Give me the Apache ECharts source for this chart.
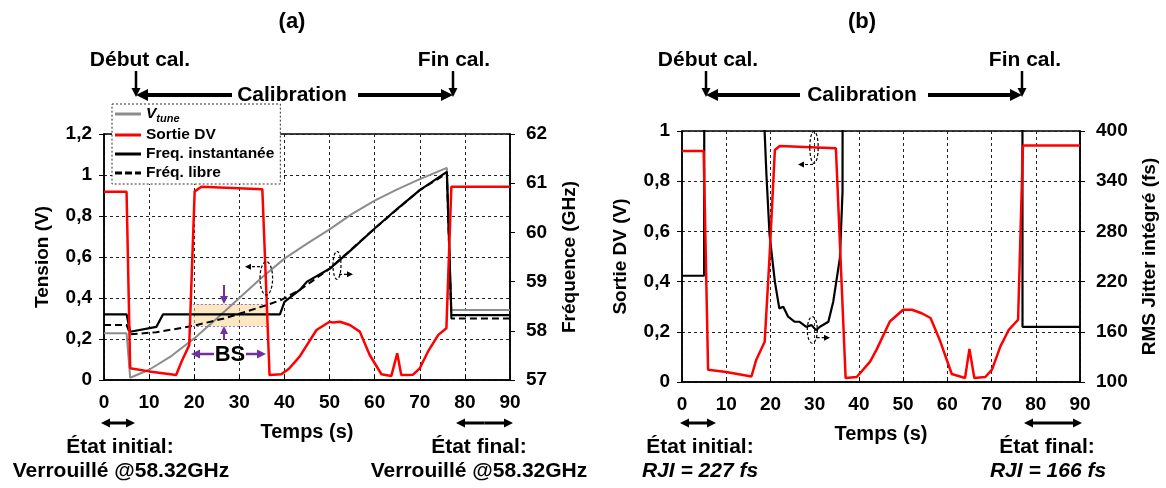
<!DOCTYPE html>
<html>
<head>
<meta charset="utf-8">
<script src="https://cdn.jsdelivr.net/npm/echarts@6/dist/echarts.min.js"></script>
<style>
  html, body { margin: 0; padding: 0; background: #fff; }
  #main { width: 1166px; height: 488px; }
</style>
</head>
<body>
<div id="main"></div>
<script>
// ---- data ----
// panel (a)
const tVtune = [0, 5, 5.8, 10, 15, 20, 25, 30, 35, 40, 45, 50, 55, 60, 65, 70, 76, 77, 90];
const vtune  = [0.228, 0.228, 0.011, 0.05, 0.118, 0.203, 0.30, 0.40, 0.50, 0.592, 0.665, 0.735, 0.81, 0.875, 0.93, 0.98, 1.035, 0.341, 0.341];

const tDvA = [0, 5, 5.8, 10, 16, 17.2, 18.9, 20.1, 21.6, 35.1, 36.7, 39.3, 41, 43.4, 47.1, 50, 50.8, 52.3, 54.5, 56.7, 58.9, 61.5, 63.7, 65, 65.9, 68.5, 70, 71.8, 74.1, 75.9, 77, 90];
const dvA  = [0.918, 0.918, 0.057, 0.042, 0.024, 0.09, 0.17, 0.92, 0.943, 0.93, 0.024, 0.028, 0.055, 0.115, 0.244, 0.284, 0.28, 0.284, 0.268, 0.236, 0.122, 0.028, 0.02, 0.13, 0.024, 0.026, 0.057, 0.138, 0.22, 0.252, 0.943, 0.943];

const tFreq = [0, 5, 5.8, 11.6, 13.1, 39, 40, 43.4, 45, 50, 55, 60, 65, 70, 76, 77, 90];
const freq  = [58.335, 58.335, 57.98, 58.08, 58.335, 58.335, 58.59, 58.83, 59.0, 59.26, 59.66, 60.08, 60.48, 60.86, 61.23, 58.32, 58.32];

const tLibre = [0, 5, 5.8, 11.6, 19.7, 26.6, 36, 39.3, 43.4, 50, 60, 70, 76, 77, 90];
const libre  = [58.12, 58.12, 57.93, 57.97, 58.1, 58.25, 58.52, 58.63, 58.83, 59.26, 60.08, 60.86, 61.2, 58.25, 58.25];

// bande BS (s, GHz)
const bsTime = [19.7, 36];
const bsFreq = [58.10, 58.54];

// panel (b)
const tDvB = [0, 4.9, 5.9, 10, 15.7, 16.8, 18.7, 19.8, 21, 22.1, 34.8, 37, 39.5, 42.5, 44, 47, 50, 52, 54.2, 56.2, 58.4, 61, 64, 65, 66.1, 68.6, 70.1, 72, 73.9, 76, 77.1, 90];
const dvB  = [0.92, 0.92, 0.049, 0.04, 0.022, 0.089, 0.16, 0.5, 0.924, 0.94, 0.931, 0.016, 0.02, 0.08, 0.129, 0.241, 0.288, 0.288, 0.274, 0.255, 0.162, 0.032, 0.016, 0.132, 0.016, 0.02, 0.049, 0.142, 0.208, 0.248, 0.942, 0.942];

const tJit = [0, 5, 5.3, 18.3, 18.6, 19.1, 19.8, 21, 22, 22.9, 24, 25.5, 26.6, 28.1, 29.3, 30.3, 31.2, 33.1, 34.2, 35.7, 36.3, 36.6, 76.9, 77, 90];
const jit  = [227, 227, 2000, 2000, 410, 347, 276, 220, 188, 190, 178, 172, 172, 166, 168, 162, 166, 172, 196, 248, 327, 2000, 2000, 166, 166];

const xTicks = [0, 90, 10];

const FONT = '"Liberation Sans", Arial, sans-serif';
const pairs = (xs, ys) => xs.map((x, i) => [x, ys[i]]);
const comma = v => String(+v.toFixed(2)).replace('.', ',');

// ---- small drawing helpers for the annotations ----
function arrow(x1, y1, x2, y2, o) {
  o = o || {};
  const w = o.width || 3, h = o.head || 10, c = o.color || '#000';
  const a = Math.atan2(y2 - y1, x2 - x1);
  const bx = x2 - h * Math.cos(a), by = y2 - h * Math.sin(a);
  const px = Math.sin(a) * h * 0.5, py = -Math.cos(a) * h * 0.5;
  return [
    { type: 'line', z: 100, shape: { x1, y1, x2: bx, y2: by },
      style: { stroke: c, lineWidth: w, lineDash: o.dash || null } },
    { type: 'polygon', z: 100, shape: { points: [[x2, y2], [bx + px, by + py], [bx - px, by - py]] },
      style: { fill: c } }
  ];
}
function dblArrow(x1, y, x2, o) {
  const m = (x1 + x2) / 2;
  return arrow(m, y, x1, y, o).concat(arrow(m, y, x2, y, o));
}
function txt(x, y, s, size, style) {
  return { type: 'text', z: 100, x, y,
    style: { text: s, font: (style || 'bold') + ' ' + size + 'px ' + FONT, fill: '#000',
      align: 'center', verticalAlign: 'middle' } };
}
function ell(cx, cy, rx, ry) {
  return { type: 'ellipse', z: 100, shape: { cx, cy, rx, ry },
    style: { fill: 'none', stroke: '#000', lineWidth: 1.2, lineDash: [3, 2] } };
}

const graphics = [].concat(
  // (a) header
  [txt(292, 22, '(a)', 22), txt(140, 60, 'Début cal.', 21), txt(454, 60, 'Fin cal.', 21), txt(292, 95, 'Calibration', 21)],
  arrow(136, 71, 136, 97, { width: 2.5, head: 9 }),
  arrow(453, 71, 453, 97, { width: 2.5, head: 9 }),
  arrow(232, 95, 136, 95, { width: 4, head: 12 }),
  arrow(358, 95, 453, 95, { width: 4, head: 12 }),
  // (a) footer
  dblArrow(101, 423, 135, { width: 3, head: 9 }),
  dblArrow(456, 423, 513, { width: 3, head: 9 }),
  [txt(120, 447, 'État initial:', 21), txt(121, 471, 'Verrouillé @58.32GHz', 21),
   txt(479, 447, 'État final:', 21), txt(479, 471, 'Verrouillé @58.32GHz', 21)],
  // (a) BS markers
  arrow(224, 285, 224, 304, { width: 2, head: 8, color: '#7030a0' }),
  arrow(224, 340, 224, 326, { width: 2, head: 8, color: '#7030a0' }),
  arrow(214, 354, 191, 354, { width: 2.5, head: 9, color: '#7030a0' }),
  arrow(246, 354, 266, 354, { width: 2.5, head: 9, color: '#7030a0' }),
  [txt(230, 355, 'BS', 22)],
  // (a) axis pointers
  [ell(266.3, 278.3, 6.3, 16.7), ell(337, 265.3, 4, 14)],
  arrow(260, 266.7, 245, 266.7, { width: 1.2, head: 6, dash: [3, 2] }),
  arrow(339, 274.3, 353, 274.3, { width: 1.2, head: 6, dash: [3, 2] }),
  // (b) header
  [txt(862, 22, '(b)', 22), txt(708, 60, 'Début cal.', 21), txt(1025, 60, 'Fin cal.', 21), txt(862, 95, 'Calibration', 21)],
  arrow(706, 71, 706, 97, { width: 2.5, head: 9 }),
  arrow(1022, 71, 1022, 97, { width: 2.5, head: 9 }),
  arrow(800, 95, 706, 95, { width: 4, head: 12 }),
  arrow(928, 95, 1022, 95, { width: 4, head: 12 }),
  // (b) footer
  dblArrow(680, 423, 716, { width: 3, head: 9 }),
  dblArrow(1024, 423, 1082, { width: 3, head: 9 }),
  [txt(700, 447, 'État initial:', 21), txt(700, 471, 'RJI = 227 fs', 21, 'italic bold'),
   txt(1047, 447, 'État final:', 21), txt(1048, 471, 'RJI = 166 fs', 21, 'italic bold')],
  // (b) axis pointers
  [ell(814, 147.3, 4.2, 16), ell(812.3, 330, 5, 13.3)],
  arrow(813, 164.5, 798, 164.5, { width: 1.2, head: 6, dash: [3, 2] }),
  arrow(816.7, 337.7, 830, 337.7, { width: 1.2, head: 6, dash: [3, 2] })
);

const labelStyle = { color: '#000', fontFamily: FONT, fontWeight: 'bold', fontSize: 19 };
const nameStyle = { color: '#000', fontFamily: FONT, fontWeight: 'bold', fontSize: 19 };
const dotted = { show: true, lineStyle: { color: '#222', type: [3, 3], width: 1 } };

function xAx(gi) {
  return {
    type: 'value', gridIndex: gi, min: xTicks[0], max: xTicks[1], interval: xTicks[2],
    name: 'Temps (s)', nameLocation: 'middle', nameGap: 42, nameTextStyle: Object.assign({}, nameStyle, { fontSize: 20 }),
    axisLine: { lineStyle: { color: '#000', width: 1.5 } },
    axisTick: { inside: true, length: 5, lineStyle: { color: '#000' } },
    axisLabel: Object.assign({ margin: 13 }, labelStyle),
    splitLine: dotted
  };
}
function yAx(gi, min, max, interval, pos, name, nameGap, split, fmt) {
  return {
    type: 'value', gridIndex: gi, position: pos, min, max, interval,
    name, nameLocation: 'middle', nameRotate: 90, nameGap, nameTextStyle: nameStyle,
    axisLine: { show: true, lineStyle: { color: '#000', width: 1.5 } },
    axisTick: { show: true, length: 5, lineStyle: { color: '#000' } },
    axisLabel: Object.assign({ margin: pos === 'right' ? 16 : 12, formatter: fmt }, labelStyle),
    splitLine: split ? dotted : { show: false }
  };
}

const lineIcon = 'path://M0,0h26v3h-26z';
const dashIcon = 'path://M0,0h7v3h-7zM10,0h7v3h-7zM20,0h6v3h-6z';

const chart = echarts.init(document.getElementById('main'), null, { renderer: 'canvas' });
chart.setOption({
  animation: false,
  backgroundColor: '#fff',
  grid: [
    { left: 104, right: 656, top: 134, bottom: 108, show: true, borderColor: '#000', borderWidth: 1.5, backgroundColor: 'transparent' },
    { left: 682, right: 86, top: 131, bottom: 106, show: true, borderColor: '#000', borderWidth: 1.5, backgroundColor: 'transparent' }
  ],
  xAxis: [xAx(0), xAx(1)],
  yAxis: [
    yAx(0, 0, 1.2, 0.2, 'left', 'Tension (V)', 52, true, comma),
    yAx(0, 57, 62, 1, 'right', 'Fréquence (GHz)', 50, false, v => String(v)),
    yAx(1, 0, 1, 0.2, 'left', 'Sortie DV (V)', 52, true, comma),
    yAx(1, 100, 400, 60, 'right', 'RMS Jitter intégré (fs)', 60, false, v => String(v))
  ],
  legend: {
    data: [
      { name: 'Vtune', icon: lineIcon },
      { name: 'Sortie DV', icon: lineIcon },
      { name: 'Freq. instantanée', icon: lineIcon },
      { name: 'Fréq. libre', icon: dashIcon }
    ],
    orient: 'vertical', left: 112, top: 104, itemGap: 3, itemWidth: 26, itemHeight: 3,
    padding: [2, 6, 3, 3],
    backgroundColor: '#fff', borderColor: '#333', borderWidth: 1, borderType: [2, 2],
    selectedMode: false,
    textStyle: {
      color: '#000', fontFamily: FONT, fontWeight: 'bold', fontSize: 15.5,
      rich: {
        v: { fontFamily: FONT, fontWeight: 'bold', fontStyle: 'italic', fontSize: 15.5 },
        s: { fontFamily: FONT, fontWeight: 'bold', fontStyle: 'italic', fontSize: 11, padding: [9, 0, 0, 0] }
      }
    },
    formatter: n => n === 'Vtune' ? '{v|V}{s|tune}' : n
  },
  series: [
    { name: 'Vtune', type: 'line', xAxisIndex: 0, yAxisIndex: 0, showSymbol: false, symbol: 'none',
      lineStyle: { color: '#8c8c8c', width: 2 }, itemStyle: { color: '#8c8c8c' }, z: 3,
      data: pairs(tVtune, vtune) },
    { name: 'Fréq. libre', type: 'line', xAxisIndex: 0, yAxisIndex: 1, showSymbol: false, symbol: 'none',
      lineStyle: { color: '#000', width: 2, type: [7, 4] }, itemStyle: { color: '#000' }, z: 4,
      data: pairs(tLibre, libre),
      markArea: {
        silent: true,
        itemStyle: { color: 'rgba(250, 214, 140, 0.55)' },
        data: [[{ xAxis: bsTime[0], yAxis: bsFreq[0] }, { xAxis: bsTime[1], yAxis: bsFreq[1] }]]
      },
      markLine: {
        silent: true, symbol: 'none', label: { show: false },
        lineStyle: { color: '#9b6cc9', type: [2, 2], width: 1.2 },
        data: [
          [{ coord: [bsTime[0], bsFreq[0]] }, { coord: [bsTime[1], bsFreq[0]] }],
          [{ coord: [bsTime[0], bsFreq[1]] }, { coord: [bsTime[1], bsFreq[1]] }]
        ]
      } },
    { name: 'Freq. instantanée', type: 'line', xAxisIndex: 0, yAxisIndex: 1, showSymbol: false, symbol: 'none',
      lineStyle: { color: '#000', width: 2.2 }, itemStyle: { color: '#000' }, z: 5,
      data: pairs(tFreq, freq) },
    { name: 'Sortie DV', type: 'line', xAxisIndex: 0, yAxisIndex: 0, showSymbol: false, symbol: 'none',
      lineStyle: { color: '#ff0000', width: 2.5 }, itemStyle: { color: '#ff0000' }, z: 6,
      data: pairs(tDvA, dvA) },
    { name: 'Sortie DV (b)', type: 'line', xAxisIndex: 1, yAxisIndex: 2, showSymbol: false, symbol: 'none',
      lineStyle: { color: '#ff0000', width: 2.5 }, z: 6,
      data: pairs(tDvB, dvB) },
    { name: 'RMS Jitter', type: 'line', xAxisIndex: 1, yAxisIndex: 3, showSymbol: false, symbol: 'none',
      clip: true, lineStyle: { color: '#000', width: 2.2 }, z: 5,
      data: pairs(tJit, jit) }
  ],
  graphic: graphics
});
</script>
</body>
</html>
